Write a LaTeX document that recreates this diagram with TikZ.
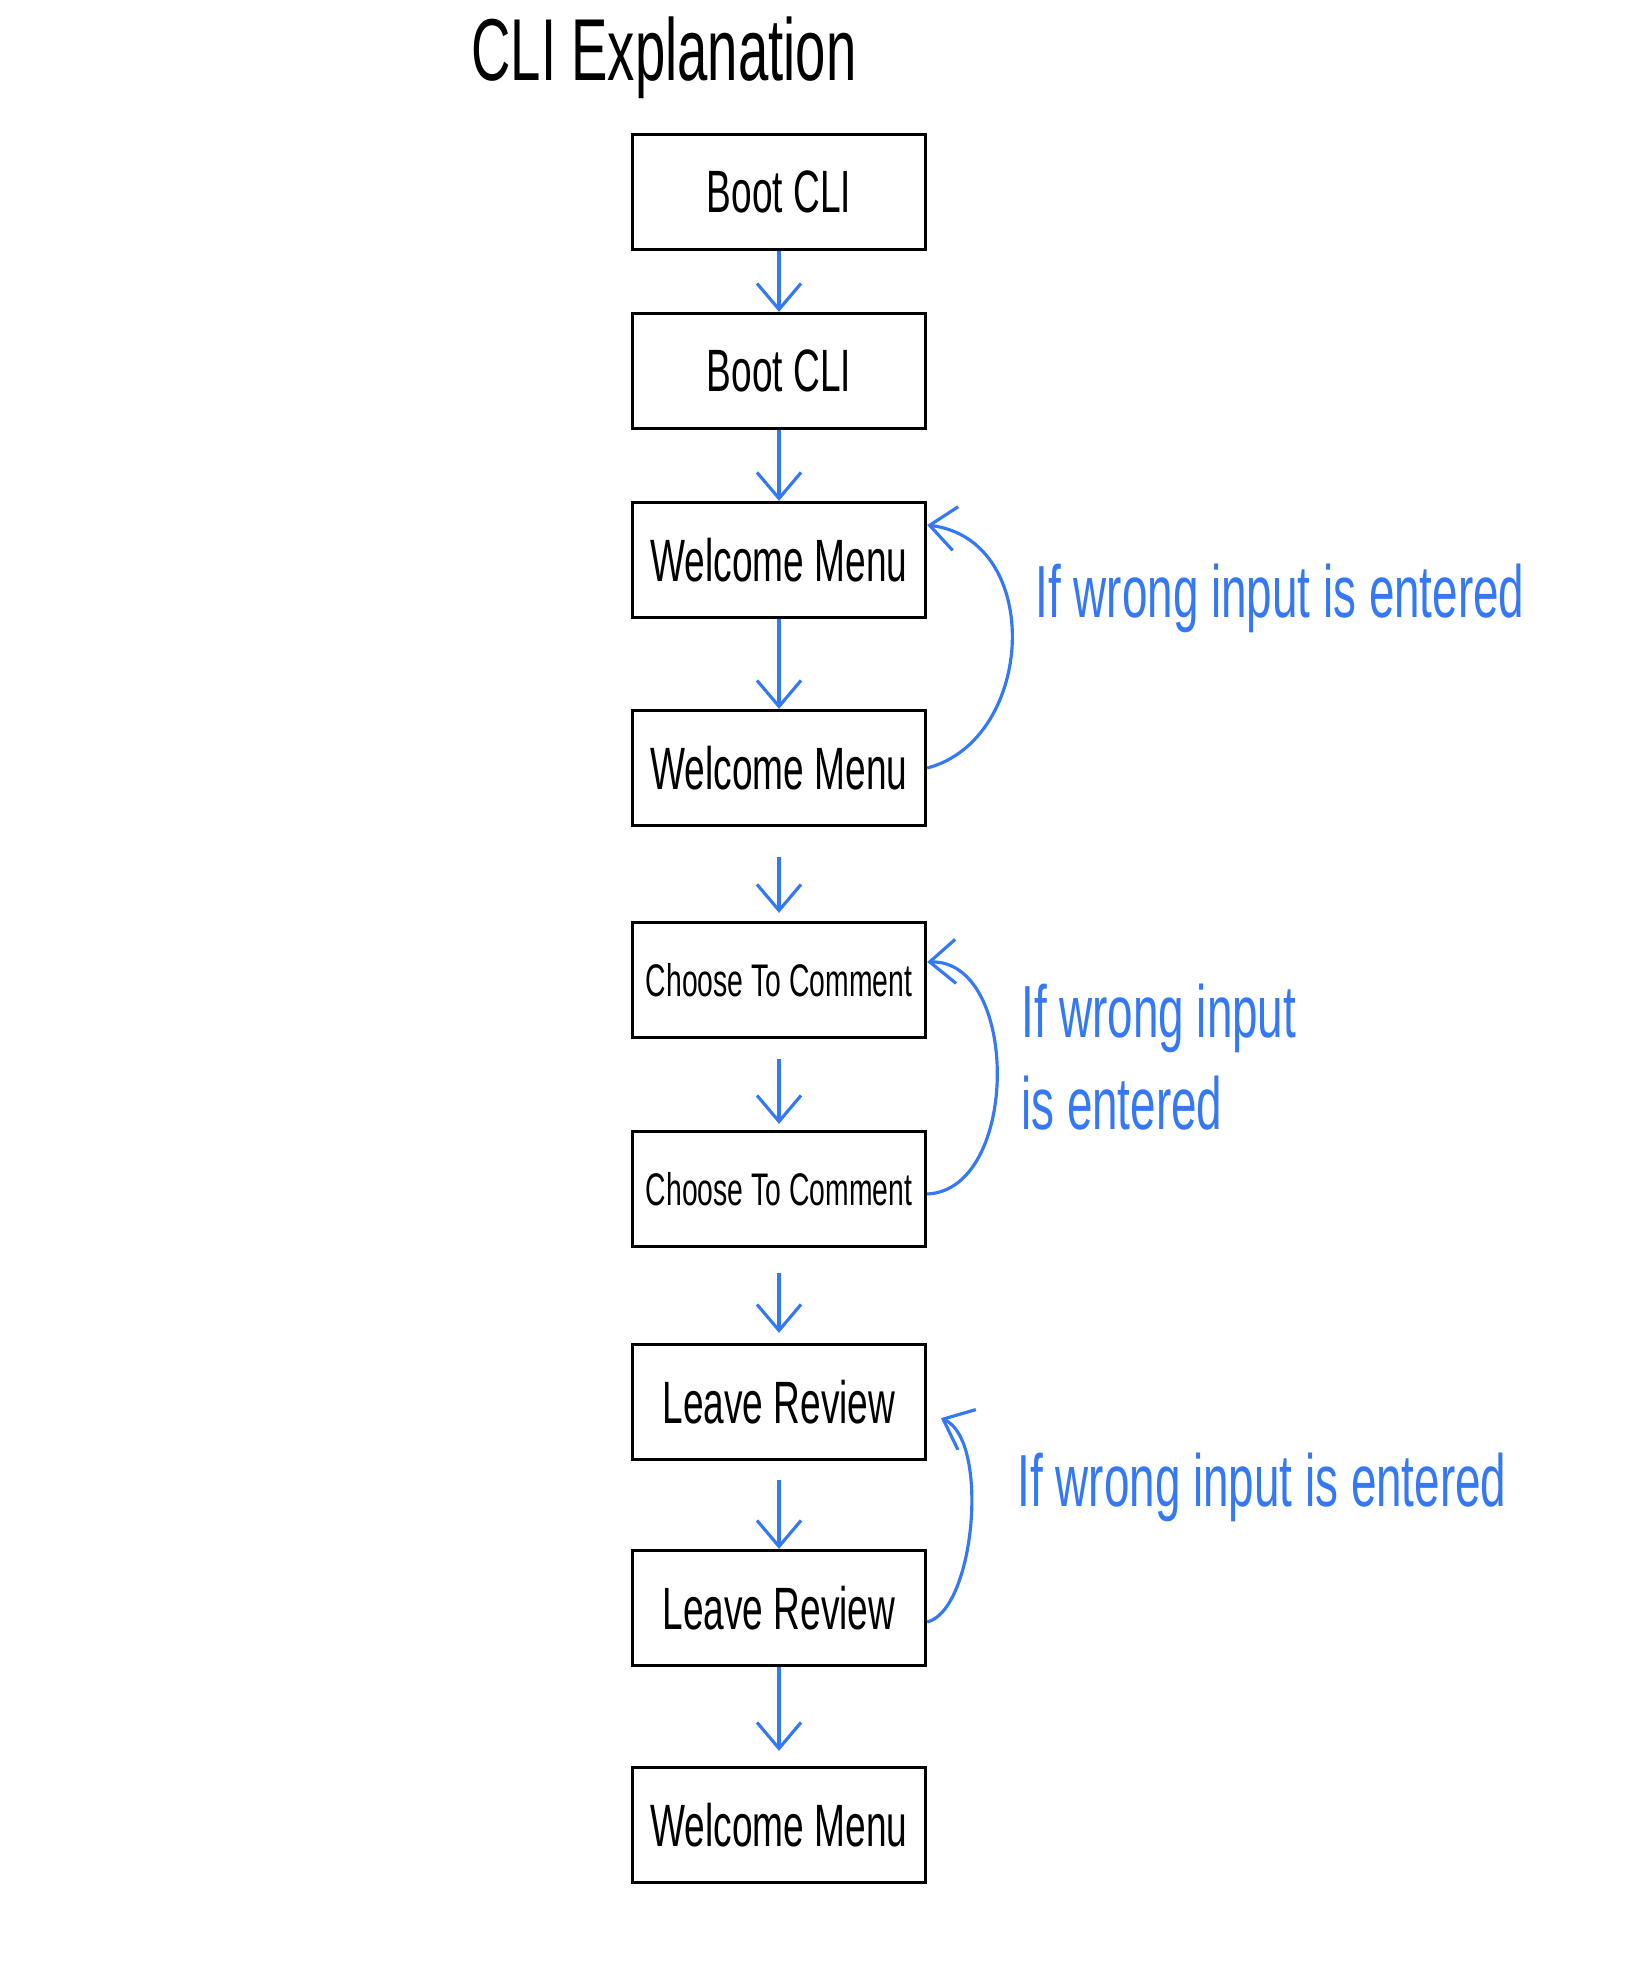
\documentclass[tikz,border=0pt]{standalone}
\usepackage{fontspec}
\setmainfont[FakeStretch=0.62]{Liberation Sans}
\usepackage{tikz}
\usetikzlibrary{positioning, arrows.meta}
\definecolor{penblue}{RGB}{52,120,246}

\begin{document}
\begin{tikzpicture}[x=0.01cm, y=-0.01cm, ->, >={Straight Barb[length=2.6mm,width=4.4mm]}, line width=0.9pt,
    box/.style={draw, -, minimum width=2.93cm, minimum height=1.15cm, inner sep=0pt, font=\fontsize{17}{20}\selectfont},
    note/.style={text=penblue, font=\fontsize{21}{26}\selectfont}]
    \useasboundingbox (0,0) rectangle (1631,1961);
    	\node[font=\fontsize{25}{30}\selectfont] (t) at (664,58) {CLI Explanation};
    	\node[box] (1) at (779,192)  {Boot CLI};
    	\node[box] (2) at (779,371)  {Boot CLI};
    	\node[box] (3) at (779,560)  {Welcome Menu};
    	\node[box] (4) at (779,768)  {Welcome Menu};
    	\node[box, font=\fontsize{13}{16}\selectfont] (5) at (779,980)  {Choose To Comment};
    	\node[box, font=\fontsize{13}{16}\selectfont] (6) at (779,1189) {Choose To Comment};
    	\node[box] (7) at (779,1402) {Leave Review};
    	\node[box] (8) at (779,1608) {Leave Review};
    	\node[box] (9) at (779,1825) {Welcome Menu};
    	\node[note] (l1) at (1280,598) {If wrong input is entered};
    	\node[note, align=left, anchor=west] (l2) at (1008,1057) {If wrong input\\ is entered};
    	\node[note] (l3) at (1262,1487) {If wrong input is entered};
    	\draw[penblue]
    			(1) edge (2)
				(2) edge (3)
				(3) edge (4)
				(4) edge [shorten <=0.3cm, shorten >=0.08cm] (5)
				(5) edge [shorten <=0.2cm, shorten >=0.06cm] (6)
				(6) edge [shorten <=0.25cm, shorten >=0.1cm] (7)
				(7) edge [shorten <=0.19cm] (8)
				(8) edge [shorten >=0.15cm] (9)
	;
    	% going back when the input is wrong
    	\draw[penblue] (4.east) .. controls (1035,740) and (1045,540) .. ([yshift=0.35cm]3.east);
    	\draw[penblue] ([yshift=-0.05cm]6.east) .. controls (1020,1190) and (1020,960) .. ([yshift=0.18cm]5.east);
    	\draw[penblue, shorten >=0.15cm] ([yshift=-0.14cm]8.east) .. controls (975,1610) and (990,1440) .. ([yshift=-0.1cm]7.east);
    \end{tikzpicture}
\end{document}
